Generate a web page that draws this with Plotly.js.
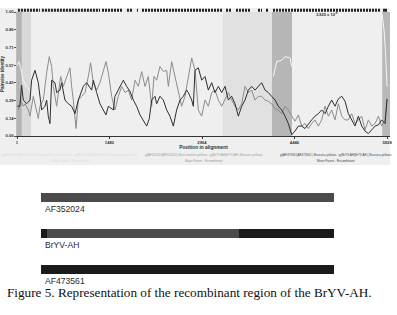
<!DOCTYPE html>
<html><head><meta charset="utf-8">
<script src="https://cdn.plot.ly/plotly-3.0.1.min.js"></script>
<style>html,body{margin:0;padding:0;background:#fff}#chart{width:397px;height:315px}</style>
</head><body><div id="chart"></div>
<script>
// Pairwise identity: minor parent (AF473561) vs recombinant (BrYV-AH)
const minorRecPos = [6,48,75,102,155,209,235,289,342,396,449,476,502,529,556,609,636,689,716,769,823,876,930,983,1063,1116,1197,1223,1277,1330,1383,1426,1464,1544,1570,1624,1677,1704,1757,1811,1864,1917,1971,2024,2078,2120,2158,2211,2238,2291,2345,2398,2451,2505,2558,2612,2665,2718,2745,2799,2825,2852,2905,2959,3012,3066,3119,3172,3226,3279,3333,3386,3439,3493,3546,3600,3653,3706,3760,3813,3867,3920,3973,4027,4080,4134,4187,4240,4294,4347,4401,4454,4507,4561,4614,4668,4721,4774,4828,4881,4935,4988,5041,5095,5148,5202,5255,5308,5362,5415,5469,5522,5575,5629,5682,5736,5789,5842,5896,5910,5928];
const minorRecVal = [0.24,0.24,0.41,0.29,0.26,0.29,0.45,0.53,0.43,0.21,0.24,0.29,0.16,0.10,0.45,0.43,0.35,0.37,0.43,0.29,0.26,0.24,0.18,0.29,0.40,0.43,0.37,0.45,0.35,0.26,0.21,0.17,0.24,0.21,0.32,0.37,0.43,0.45,0.40,0.36,0.29,0.24,0.17,0.12,0.08,0.14,0.29,0.32,0.26,0.32,0.29,0.21,0.16,0.08,0.21,0.29,0.32,0.37,0.35,0.29,0.24,0.53,0.55,0.45,0.48,0.37,0.43,0.35,0.40,0.35,0.40,0.29,0.32,0.26,0.16,0.24,0.29,0.37,0.40,0.37,0.40,0.43,0.37,0.35,0.32,0.29,0.24,0.21,0.16,0.10,0.01,0.04,0.08,0.08,0.06,0.10,0.13,0.16,0.18,0.21,0.18,0.24,0.29,0.24,0.30,0.32,0.28,0.18,0.13,0.08,0.16,0.08,0.04,0.02,0.05,0.08,0.09,0.13,0.10,0.18,0.30];
// Pairwise identity: major parent (AF352024) vs recombinant (BrYV-AH)
const majorRecPos = [22,59,102,129,182,209,262,315,342,369,422,476,518,556,582,636,663,700,743,796,849,876,903,946,983,1036,1090,1143,1180,1223,1277,1330,1383,1426,1464,1517,1570,1624,1677,1731,1784,1837,1891,1944,1998,2051,2104,2158,2195,2238,2291,2345,2398,2425,2478,2532,2585,2638,2692,2745,2799,2852,2905,2959,3012,3066,3119,3172,3226,3279,3333,3386,3439,3493,3546,3600,3653,3706,3760,3813,3867,3920,3973,4027,4080,4134,4187,4240,4294,4347,4401,4454,4507,4561,4614,4668,4721,4774,4828,4881,4935,4988,5041,5095,5148,5202,5255,5308,5362,5415,5469,5522,5575,5629,5682,5736,5789,5842,5896,5928];
const majorRecVal = [0.21,0.29,0.24,0.26,0.21,0.16,0.32,0.18,0.14,0.24,0.29,0.51,0.64,0.56,0.40,0.24,0.35,0.48,0.40,0.48,0.55,0.40,0.29,0.06,0.29,0.32,0.35,0.48,0.59,0.43,0.37,0.43,0.53,0.60,0.51,0.32,0.21,0.32,0.40,0.35,0.37,0.29,0.45,0.40,0.52,0.40,0.48,0.24,0.48,0.45,0.56,0.52,0.53,0.40,0.60,0.48,0.35,0.24,0.32,0.48,0.63,0.53,0.21,0.16,0.29,0.24,0.35,0.37,0.29,0.24,0.29,0.35,0.29,0.24,0.21,0.26,0.40,0.35,0.37,0.29,0.32,0.32,0.29,0.28,0.26,0.22,0.21,0.18,0.24,0.21,0.16,0.12,0.17,0.08,0.10,0.06,0.10,0.13,0.08,0.13,0.24,0.16,0.21,0.13,0.26,0.16,0.13,0.13,0.18,0.10,0.13,0.16,0.05,0.13,0.08,0.10,0.16,0.08,0.13,0.29];
// Pairwise identity: major parent vs minor parent (visible pieces only)
const majorMinorPos = [1,30,60,100,150,220,null,4107,4160,4240,4294,4374,4401,null,5850,5880,5900,5915,5928];
const majorMinorVal = [0.57,0.60,0.55,0.45,0.40,0.36,null,0.48,0.60,0.61,0.64,0.63,0.56,null,0.98,0.85,0.70,0.55,0.40];
// informative sites strip (clusters)
const siteStart = [16,400,1362,1762,1922,2003,3348,3508,3861,3989,4101,5863,5895];
const siteEnd   = [368,1330,1698,1858,1938,3284,3444,3733,3925,4021,5815,5895,5928];
// highlighted regions
const regionStart = [1,80,3300,4085,5850];
const regionEnd   = [80,225,4085,4405,5975];
const regionShade = ['#b4b4b4','#d9d9d9','#e1e1e1','#b6b6b6','#b8b8b8'];
// ticks
const xTicks = [1,1482,2964,4446,5928];
const yTickLabels = ['0.00','0.14','0.29','0.43','0.57','0.71','0.86','1.00'];
// recombination map
const seqNames = ['AF352024','BrYV-AH','AF473561'];
const majorSeq = ['AF352024','BrYV-AH'];
const majorStart = [1,120];
const majorEnd = [5928,4010];
const minorSeq = ['BrYV-AH','BrYV-AH','AF473561'];
const minorStart = [1,4010,1];
const minorEnd = [120,5928,5928];

const sx = [], sy = [];
siteStart.forEach((s,i)=>{ sx.push(s, siteEnd[i], null); sy.push(0.5,0.5,null); });

const traces = [
  {x: majorMinorPos, y: majorMinorVal, type:'scatter', mode:'lines', line:{color:'#f7f7f7', width:1}, xaxis:'x', yaxis:'y', connectgaps:false},
  {x: majorRecPos, y: majorRecVal, type:'scatter', mode:'lines', line:{color:'#8c8c8c', width:1}, xaxis:'x', yaxis:'y'},
  {x: minorRecPos, y: minorRecVal, type:'scatter', mode:'lines', line:{color:'#2e2e2e', width:1}, xaxis:'x', yaxis:'y'},
  {x: sx, y: sy, type:'scatter', mode:'lines', line:{color:'#222', width:3, dash:'2px,1px'}, xaxis:'x', yaxis:'y3', connectgaps:false},
  {y: majorSeq, base: majorStart, x: majorEnd.map((e,i)=>e-majorStart[i]), type:'bar', orientation:'h', marker:{color:'#4b4b4b', line:{width:0}}, width:0.25, xaxis:'x2', yaxis:'y2'},
  {y: minorSeq, base: minorStart, x: minorEnd.map((e,i)=>e-minorStart[i]), type:'bar', orientation:'h', marker:{color:'#1b1b1b', line:{width:0}}, width:0.25, xaxis:'x2', yaxis:'y2'}
];

const shapes = [
  {type:'rect', xref:'paper', yref:'paper', x0:0, x1:390/397, y0:(315-165)/315, y1:(315-8)/315, fillcolor:'#efefef', line:{width:0}, layer:'below'}
];
regionStart.forEach((s,i)=>shapes.push({type:'rect', xref:'x', yref:'y', x0:s, x1:regionEnd[i], y0:0, y1:1, fillcolor:regionShade[i], line:{width:0}, layer:'below'}));

const lab = {family:'Liberation Sans, Arial', size:8.6, color:'#2a2a2a'};
const annotations = seqNames.map(n=>({xref:'x2', yref:'y2', x:1, y:n, yshift:-12, xanchor:'left', yanchor:'middle', text:n, showarrow:false, font:lab, xshift:2}));
annotations.push(
  {xref:'paper', yref:'paper', x:5/397, y:(315-292)/315, xanchor:'left', yanchor:'middle', showarrow:false, text:'Figure 5. Representation of the recombinant region of the BrYV-AH.', font:{family:'Liberation Serif, Times New Roman', size:13.2, color:'#111'}},
  {xref:'paper', yref:'paper', x:327/397, y:(315-14)/315, xanchor:'center', yanchor:'middle', showarrow:false, text:'3.825 x 10<sup>-8</sup>', font:{family:'Liberation Sans', size:4, color:'#333', weight:'bold'}},
  {xref:'paper', yref:'paper', x:70/397, y:(315-155)/315, xanchor:'center', yanchor:'middle', showarrow:false, text:'gi|AF352024|AF352024 | Beet western yellows virus - gi|AF473561|AF473561 | Brassica yellows virus', font:{family:'Liberation Sans', size:3, color:'#dcdcdc'}},
  {xref:'paper', yref:'paper', x:70/397, y:(315-161)/315, xanchor:'center', yanchor:'middle', showarrow:false, text:'Major Parent - Minor Parent', font:{family:'Liberation Sans', size:3, color:'#dcdcdc'}},
  {xref:'paper', yref:'paper', x:204/397, y:(315-155)/315, xanchor:'center', yanchor:'middle', showarrow:false, text:'gi|AF352024|AF352024 | Beet western yellows - gi|BrYV-AH|BrYV-AH | Brassica yellows', font:{family:'Liberation Sans', size:3, color:'#9a9a9a'}},
  {xref:'paper', yref:'paper', x:204/397, y:(315-161)/315, xanchor:'center', yanchor:'middle', showarrow:false, text:'Major Parent - Recombinant', font:{family:'Liberation Sans', size:3, color:'#9a9a9a'}},
  {xref:'paper', yref:'paper', x:336/397, y:(315-155)/315, xanchor:'center', yanchor:'middle', showarrow:false, text:'gi|AF473561|AF473561 | Brassica yellows - gi|BrYV-AH|BrYV-AH | Brassica yellows', font:{family:'Liberation Sans', size:3, color:'#444'}},
  {xref:'paper', yref:'paper', x:336/397, y:(315-161)/315, xanchor:'center', yanchor:'middle', showarrow:false, text:'Minor Parent - Recombinant', font:{family:'Liberation Sans', size:3, color:'#444'}}
);

const tf = {family:'Liberation Sans, Arial', size:4.2, color:'#333', weight:'bold'};
const layout = {
  width:397, height:315, autosize:false, showlegend:false,
  margin:{l:0,r:0,t:0,b:0,pad:0},
  paper_bgcolor:'#ffffff', plot_bgcolor:'rgba(0,0,0,0)',
  bargap:0, barmode:'overlay',
  xaxis:{domain:[17/397, 390/397], range:[1,5975], tickvals:xTicks, ticktext:xTicks.map(String), tickfont:tf, ticks:'outside', ticklen:2, tickcolor:'#333', showline:true, linecolor:'#333', linewidth:1, showgrid:false, zeroline:false, automargin:false, anchor:'y',
    title:{text:'Position in alignment', font:{family:'Liberation Sans, Arial', size:4.8, color:'#333', weight:'bold'}, standoff:1}},
  yaxis:{domain:[(315-136)/315, (315-12)/315], range:[0,1], tickvals:yTickLabels.map((t,i)=>i/7), ticktext:yTickLabels, tickfont:tf, ticks:'outside', ticklen:2, tickcolor:'#555', showline:true, linecolor:'#999', linewidth:0.6, showgrid:false, zeroline:false, automargin:false, anchor:'x',
    title:{text:'Pairwise identity', font:{family:'Liberation Sans, Arial', size:4.6, color:'#333', weight:'bold'}, standoff:2}},
  yaxis3:{domain:[(315-12.5)/315, (315-8)/315], range:[0,1], visible:false, anchor:'x', fixedrange:true},
  xaxis2:{domain:[41/397, 334/397], range:[1,5928], visible:false, anchor:'y2'},
  yaxis2:{domain:[(315-287)/315, (315-179.6)/315], type:'category', categoryarray:seqNames, range:[2.5,-0.5], visible:false, anchor:'x2'},
  shapes:shapes, annotations:annotations
};
Plotly.newPlot('chart', traces, layout, {displayModeBar:false, staticPlot:true});
</script></body></html>
